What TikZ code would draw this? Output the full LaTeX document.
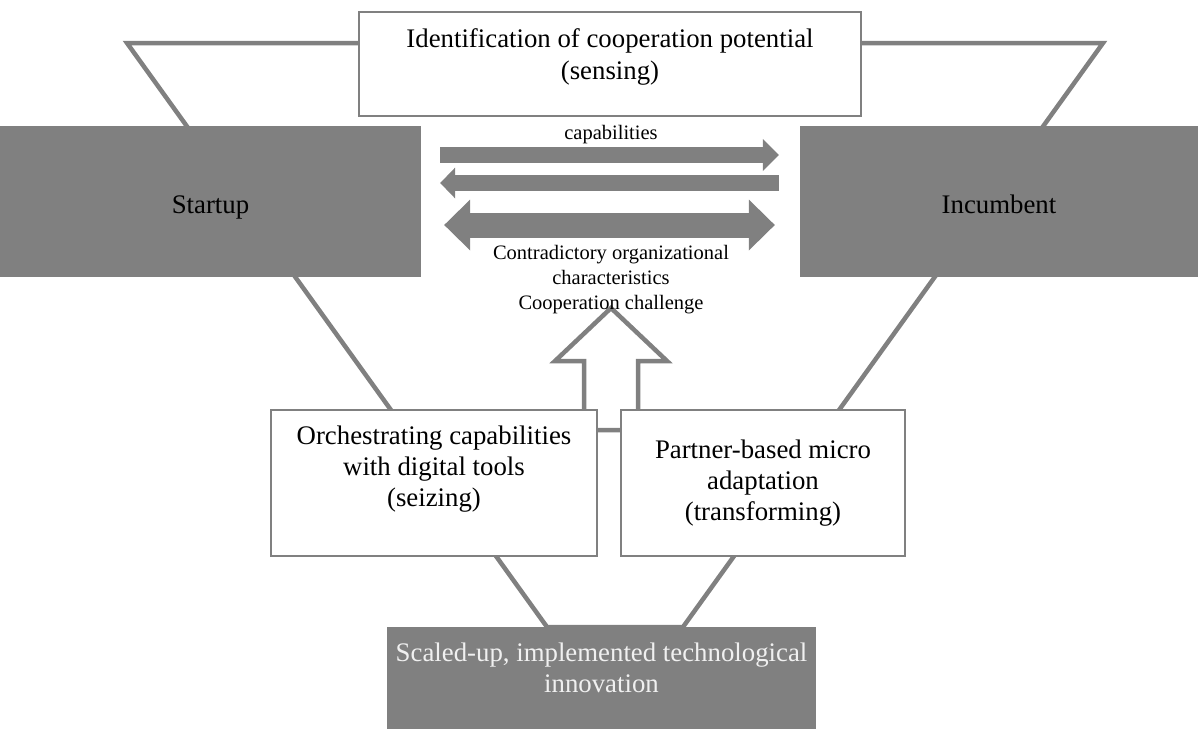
\documentclass[tikz,border=0pt]{standalone}
\usepackage{fontspec}
\setmainfont{Liberation Serif}
\usetikzlibrary{arrows.meta, positioning}
\definecolor{figgray}{HTML}{808080}

\begin{document}
\begin{tikzpicture}[
    x=1pt, y=-1pt,
    phase/.style  ={draw=figgray, line width=2pt, fill=white, inner sep=0pt},
    actor/.style  ={fill=figgray, inner sep=0pt, align=center,
                    text height=23pt, text depth=0pt,
                    font=\fontsize{26.8}{31}\selectfont},
    txt/.style    ={align=center, inner sep=0pt, font=\fontsize{26.8}{31}\selectfont},
    note/.style   ={align=center, inner sep=0pt, font=\fontsize{20.5}{25}\selectfont},
    funnel/.style ={draw=figgray, line width=4.5pt},
    flow/.style   ={draw=figgray, line width=16pt},
]
\useasboundingbox (0,0) rectangle (1198,729);
% funnel and the upward block arrow sit behind the boxes
\draw[funnel] (127,43) -- (1103,43) -- (683,627) -- (547,627) -- cycle;
\draw[funnel, fill=white] (584,430) -- (584,361) -- (555,361) -- (611,308)
    -- (667,361) -- (638,361) -- (638,430) -- cycle;

\node[phase, minimum width=502pt, minimum height=104pt] (sensing) at (610,64) {};
\node[txt, font=\fontsize{26.8}{32}\selectfont] (sensingtext) at ([yshift=7pt]sensing.center)
    {Identification of cooperation potential\\(sensing)};
\node[actor, minimum width=421pt, minimum height=151pt] (startup)   at (210.5,201.5) {Startup};
\node[actor, minimum width=398pt, minimum height=151pt] (incumbent) at (999,201.5)   {Incumbent};
\node[phase, minimum width=326pt, minimum height=146pt] (seizing) at (434,483) {};
\node[txt] (seizingtext) at ([yshift=14pt]seizing.center)
    {Orchestrating capabilities\\with digital tools\\(seizing)};
\node[phase, minimum width=284pt, minimum height=146pt, align=center,
      font=\fontsize{26.8}{31}\selectfont] (transforming) at (763,483)
    {Partner-based micro\\adaptation\\(transforming)};
\node[actor, minimum width=429pt, minimum height=102pt, text height=0pt] (innovation) at (601.5,678) {};
\node[txt, text=white!94!black] (innovationtext) at ([yshift=10pt]innovation.center)
    {Scaled-up, implemented technological\\innovation};

% exchange between the partners
\draw[flow, -{Triangle[length=16pt,width=32pt,line width=0pt]},
      shorten <=19pt, shorten >=21pt]
    ([yshift=46.5pt]startup.east) -- ([yshift=46.5pt]incumbent.west);
\draw[flow, -{Triangle[length=15pt,width=31pt,line width=0pt]},
      shorten <=21pt, shorten >=19pt]
    ([yshift=18.5pt]incumbent.west) -- ([yshift=18.5pt]startup.east);
\draw[flow, line width=25pt,
      {Triangle[length=26pt,width=51pt,line width=0pt]}-{Triangle[length=26pt,width=51pt,line width=0pt]},
      shorten <=23pt, shorten >=25pt]
    ([yshift=-23.5pt]startup.east) -- ([yshift=-23.5pt]incumbent.west);

\node[note] (caplabel)  at (611,135) {capabilities};
\node[note] (challenge) at (611,280)
    {Contradictory organizational\\characteristics\\Cooperation challenge};
\end{tikzpicture}
\end{document}
